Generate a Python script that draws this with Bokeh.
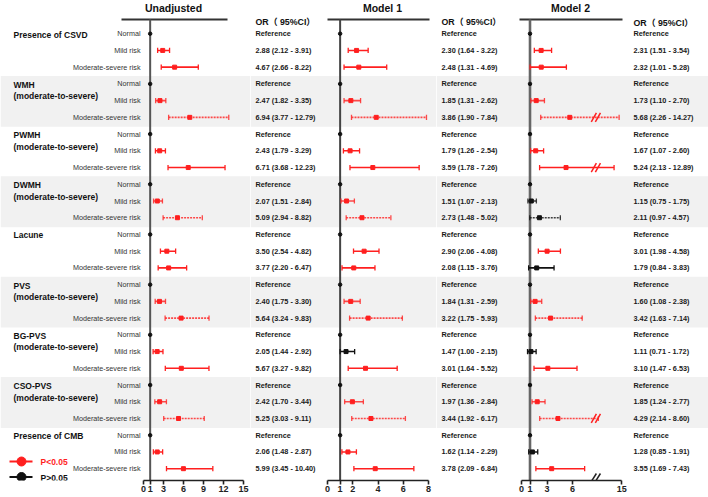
from bokeh.plotting import figure
from bokeh.layouts import row
from bokeh.models import Range1d, FixedTicker, LinearAxis, CustomJSTickFormatter
from bokeh.embed import file_html
from bokeh.resources import INLINE
from bokeh.core.properties import value

# ---------------- data ----------------
outcomes = ["Presence of CSVD", "WMH", "PWMH", "DWMH", "Lacune",
            "PVS", "BG-PVS", "CSO-PVS", "Presence of CMB"]
subtitles = ["", "(moderate-to-severe)", "(moderate-to-severe)", "(moderate-to-severe)", "",
             "(moderate-to-severe)", "(moderate-to-severe)", "(moderate-to-severe)", ""]
levels = ["Normal", "Mild risk", "Moderate-severe risk"]
shaded = [False, True, False, True, False, True, False, True, False]

# odds ratios per outcome: (mild, moderate-severe) pairs, in outcome order
unadj_or = [2.88, 4.67, 2.47, 6.94, 2.43, 6.71, 2.07, 5.09, 3.50, 3.77, 2.40, 5.64, 2.05, 5.67, 2.42, 5.25, 2.06, 5.99]
unadj_lo = [2.12, 2.66, 1.82, 3.77, 1.79, 3.68, 1.51, 2.94, 2.54, 2.20, 1.75, 3.24, 1.44, 3.27, 1.70, 3.03, 1.48, 3.45]
unadj_hi = [3.91, 8.22, 3.35, 12.79, 3.29, 12.23, 2.84, 8.82, 4.82, 6.47, 3.30, 9.83, 2.92, 9.82, 3.44, 9.11, 2.87, 10.40]

m1_or = [2.30, 2.48, 1.85, 3.86, 1.79, 3.59, 1.51, 2.73, 2.90, 2.08, 1.84, 3.22, 1.47, 3.01, 1.97, 3.44, 1.62, 3.78]
m1_lo = [1.64, 1.31, 1.31, 1.90, 1.26, 1.78, 1.07, 1.48, 2.06, 1.15, 1.31, 1.75, 1.00, 1.64, 1.36, 1.92, 1.14, 2.09]
m1_hi = [3.22, 4.69, 2.62, 7.84, 2.54, 7.26, 2.13, 5.02, 4.08, 3.76, 2.59, 5.93, 2.15, 5.52, 2.84, 6.17, 2.29, 6.84]

m2_or = [2.31, 2.32, 1.73, 5.68, 1.67, 5.24, 1.15, 2.11, 3.01, 1.79, 1.60, 3.42, 1.11, 3.10, 1.85, 4.29, 1.28, 3.55]
m2_lo = [1.51, 1.01, 1.10, 2.26, 1.07, 2.13, 0.75, 0.97, 1.98, 0.84, 1.08, 1.63, 0.71, 1.47, 1.24, 2.14, 0.85, 1.69]
m2_hi = [3.54, 5.28, 2.70, 14.27, 2.60, 12.89, 1.75, 4.57, 4.58, 3.83, 2.38, 7.14, 1.72, 6.53, 2.77, 8.60, 1.91, 7.43]

unadj_ticks = [0, 1, 3, 6, 9, 12, 15]
m1_ticks = [0, 1, 2, 4, 6, 8]
m2_ticks = [0, 1, 3, 6, 15]

panel_titles = ["Unadjusted", "Model 1", "Model 2"]
col_header = "OR（ 95%CI）"
legend_labels = ["P<0.05", "P>0.05"]

# ---------------- style / layout ----------------
FONT = "Liberation Sans"
RED = "#ff1f1f"
BLACK = "#111111"
BAND = "#f1f1f1"
FRAME_H = 480
ROW0, STEP = 33.2, 16.73
HEADER_Y = 19

# broken axis of Model 2: linear up to BREAK, a short gap, compressed above
BREAK, GAP = 8.5, 0.5
UPPER_K = (11.8 - (BREAK + GAP)) / (m2_ticks[-1] - BREAK)


def brk(v):
    return v if v <= BREAK else BREAK + GAP + (v - BREAK) * UPPER_K


def row_y(k):
    return ROW0 + STEP * k


def make_fig(left_px, width_px, zero_px, ppu):
    start = (left_px - zero_px) / ppu
    end = (left_px + width_px - zero_px) / ppu
    p = figure(frame_width=width_px, frame_height=FRAME_H,
               x_range=Range1d(start, end), y_range=Range1d(FRAME_H, 0),
               x_axis_type=None, y_axis_type=None, title=None,
               output_backend="svg", toolbar_location=None,
               min_border=0, outline_line_color=None,
               background_fill_color="white", border_fill_color="white")
    p.xgrid.visible = False
    p.ygrid.visible = False
    px = lambda v: (v - zero_px) / ppu
    # alternating group shading
    for g, sh in enumerate(shaded):
        if sh:
            p.quad(left=start, right=end, top=row_y(3 * g) - 8, bottom=row_y(3 * g + 2) + 9.5,
                   fill_color=BAND, line_color=None)
    return p, px


def add_axis(p, ticks, bounds, formatter=None):
    ax = LinearAxis(ticker=FixedTicker(ticks=ticks), bounds=bounds)
    if formatter is not None:
        ax.formatter = formatter
    ax.axis_line_width = 1.6
    ax.axis_line_color = "#222222"
    ax.major_tick_line_width = 1.6
    ax.major_tick_line_color = "#222222"
    ax.major_tick_in = 0
    ax.major_tick_out = 4
    ax.minor_tick_line_color = None
    ax.major_label_standoff = 1
    ax.major_label_text_font = FONT
    ax.major_label_text_font_size = "9px"
    ax.major_label_text_font_style = "bold"
    ax.major_label_text_color = "#222222"
    p.add_layout(ax, "below")


def draw_panel(p, px, ors, los, his, tf, x_left_px, x_right_px, ref_w, ref_col):
    # header rule and reference line at OR = 1
    p.segment(x0=[px(x_left_px)], x1=[px(x_right_px)], y0=[HEADER_Y], y1=[HEADER_Y],
              line_color="#333333", line_width=2)
    p.segment(x0=[tf(1)], x1=[tf(1)], y0=[HEADER_Y], y1=[FRAME_H],
              line_color=ref_col, line_width=ref_w)
    solid = dict(x0=[], x1=[], y0=[], y1=[], c=[], a=[])
    dashed = dict(x0=[], x1=[], y0=[], y1=[], c=[], a=[])
    caps = dict(x0=[], x1=[], y0=[], y1=[], c=[], a=[])
    pts = dict(x=[], y=[], c=[])
    cuts = dict(x0=[], x1=[], y0=[], y1=[], c=[])
    for i in range(len(ors)):
        g, lvl = i // 2, 1 + i % 2
        y = row_y(3 * g + lvl)
        col = RED if los[i] > 1 else BLACK
        alpha = 0.8 if shaded[g] else 1.0
        tgt = dashed if (shaded[g] and lvl == 2) else solid
        tgt["x0"].append(tf(los[i])); tgt["x1"].append(tf(his[i]))
        tgt["y0"].append(y); tgt["y1"].append(y)
        tgt["c"].append(col); tgt["a"].append(alpha)
        for v in (los[i], his[i]):
            caps["x0"].append(tf(v)); caps["x1"].append(tf(v))
            caps["y0"].append(y - 2.6); caps["y1"].append(y + 2.6)
            caps["c"].append(col); caps["a"].append(alpha)
        pts["x"].append(tf(ors[i])); pts["y"].append(y); pts["c"].append(col)
        if tf is brk and his[i] > BREAK:
            c = BREAK + GAP / 2
            for off in (-0.24, 0.24):
                cuts["x0"].append(c + off - 0.3); cuts["x1"].append(c + off + 0.3)
                cuts["y0"].append(y + 4.5); cuts["y1"].append(y - 4.5)
                cuts["c"].append(col)
    if tf is brk:
        # break marks where the axis jumps, sitting on the axis line
        c = BREAK + GAP / 2
        for off in (-0.24, 0.24):
            cuts["x0"].append(c + off - 0.3); cuts["x1"].append(c + off + 0.3)
            cuts["y0"].append(FRAME_H + 1); cuts["y1"].append(FRAME_H - 7)
            cuts["c"].append("#222222")
    p.segment(x0="x0", x1="x1", y0="y0", y1="y1", line_color="c", line_alpha="a",
              line_width=1.6, source=solid)
    p.segment(x0="x0", x1="x1", y0="y0", y1="y1", line_color="c", line_alpha="a",
              line_width=1.6, line_dash="2 1", source=dashed)
    p.segment(x0="x0", x1="x1", y0="y0", y1="y1", line_color="c", line_alpha="a",
              line_width=1.3, source=caps)
    if cuts["x0"]:
        p.segment(x0="x0", x1="x1", y0="y0", y1="y1", line_color="c",
                  line_width=1.5, source=cuts)
    p.scatter(x="x", y="y", color="c", marker="square", size=4, source=pts)
    # reference category points
    p.scatter(x=[tf(1)] * len(outcomes), y=[row_y(3 * g) for g in range(len(outcomes))],
              marker="circle", size=3.5, color=BLACK)


def draw_values(p, px, x_px, ors, los, his, header_y):
    p.text(x=[px(x_px)], y=[header_y], text=[col_header],
           text_font=value("Liberation Sans, Noto Sans CJK SC"),
           text_font_size="8.8px", text_font_style="bold", text_color="#111111",
           text_baseline="middle", text_align="left")
    xs, ys, labels = [], [], []
    for g in range(len(outcomes)):
        xs.append(px(x_px)); ys.append(row_y(3 * g)); labels.append("Reference")
        for lvl in (1, 2):
            i = 2 * g + lvl - 1
            xs.append(px(x_px)); ys.append(row_y(3 * g + lvl))
            labels.append(f"{ors[i]:.2f} ({los[i]:.2f} - {his[i]:.2f})")
    p.text(x=xs, y=ys, text=labels, text_font=value(FONT), text_font_size="7.3px",
           text_font_style="bold", text_color="#1a1a1a", text_baseline="middle", text_align="left")


def draw_title(p, px, cx_px, text):
    p.text(x=[px(cx_px)], y=[7], text=[text], text_font=value(FONT), text_font_size="10.5px",
           text_font_style="bold", text_color="#111111", text_align="center", text_baseline="middle")


ident = lambda v: v

# ---- left block: labels + unadjusted panel ----
f1, px1 = make_fig(0, 250, 143, 100 / 15)
tx, ty, tt = [], [], []
for g, name in enumerate(outcomes):
    tx.append(px1(13)); ty.append(row_y(3 * g) + 1); tt.append(name)
    if subtitles[g]:
        tx.append(px1(13)); ty.append(row_y(3 * g) + 12.5); tt.append(subtitles[g])
f1.text(x=tx, y=ty, text=tt, text_font=value(FONT), text_font_size="8.5px",
        text_font_style="bold", text_color="#111111", text_baseline="middle", text_align="left")
lx, ly, lt = [], [], []
for g in range(len(outcomes)):
    for lvl, lab in enumerate(levels):
        lx.append(px1(140)); ly.append(row_y(3 * g + lvl)); lt.append(lab)
f1.text(x=lx, y=ly, text=lt, text_font=value(FONT), text_font_size="7.2px",
        text_color="#333333", text_baseline="middle", text_align="right")
draw_title(f1, px1, 173, panel_titles[0])
draw_panel(f1, px1, unadj_or, unadj_lo, unadj_hi, ident, 121, 227, 2, "#555555")
add_axis(f1, unadj_ticks, (0, unadj_ticks[-1]))

# legend
for k, (lab, col) in enumerate(zip(legend_labels, [RED, BLACK])):
    yy = 461 + 15.5 * k
    f1.segment(x0=[px1(9)], x1=[px1(32)], y0=[yy], y1=[yy], line_color=col, line_width=2)
    f1.scatter(x=[px1(21)], y=[yy], marker="circle", size=9, color=col)
    f1.text(x=[px1(40)], y=[yy + 0.5], text=[lab], text_font=value(FONT), text_font_size="8.5px",
            text_font_style="bold", text_color=col, text_baseline="middle", text_align="left")

# ---- middle block: unadjusted values + model 1 panel ----
f2, px2 = make_fig(250, 186, 327, 101 / 8)
draw_values(f2, px2, 255, unadj_or, unadj_lo, unadj_hi, 21)
draw_title(f2, px2, 382, panel_titles[1])
draw_panel(f2, px2, m1_or, m1_lo, m1_hi, ident, 327, 429, 2, "#444444")
add_axis(f2, m1_ticks, (0, m1_ticks[-1]))

# ---- right block: model 1 values + model 2 panel + model 2 values ----
f3, px3 = make_fig(436, 272, 521, 8.5)
draw_values(f3, px3, 441, m1_or, m1_lo, m1_hi, 21)
draw_values(f3, px3, 633, m2_or, m2_lo, m2_hi, 22.5)
draw_title(f3, px3, 570, panel_titles[2])
draw_panel(f3, px3, m2_or, m2_lo, m2_hi, brk, 519, 622, 2.6, "#666666")
fmt = CustomJSTickFormatter(args=dict(cut=BREAK, top=str(m2_ticks[-1])),
                            code="return tick > cut ? top : String(Math.round(tick));")
add_axis(f3, [brk(t) for t in m2_ticks], (0, brk(m2_ticks[-1])), fmt)

layout = row(f1, f2, f3)
open("out.html", "w").write(file_html(layout, INLINE))
